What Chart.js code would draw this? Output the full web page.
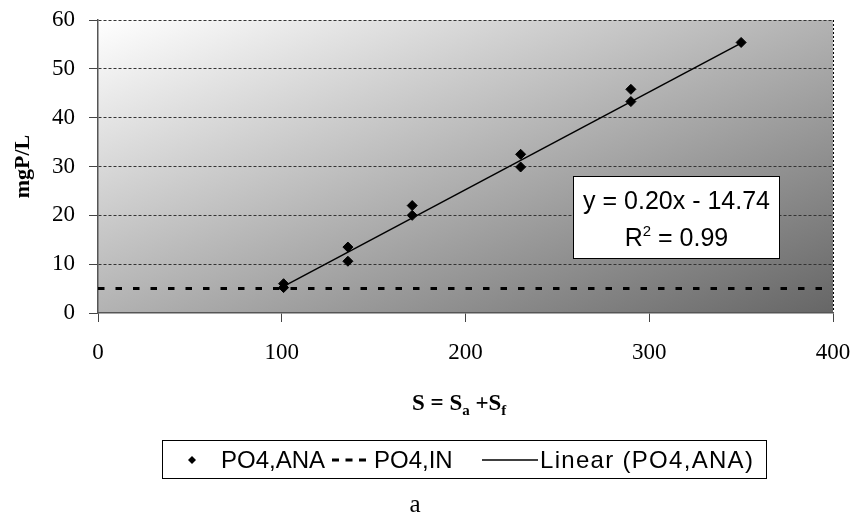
<!DOCTYPE html>
<html>
<head>
<meta charset="utf-8">
<script src="https://cdn.jsdelivr.net/npm/chart.js@4.4.1/dist/chart.umd.min.js"></script>
<style>
  html, body { margin: 0; padding: 0; background: #fff; }
  #wrap { width: 853px; height: 521px; }
</style>
</head>
<body>
<div id="wrap"><canvas id="c" width="853" height="521"></canvas></div>
<script>
// Substrate load S (x) and anaerobic phosphate release PO4,ANA (y, mgP/L)
const substrate = [101, 101, 136, 136, 171, 171, 230, 230, 290, 290, 350];
const po4Ana    = [6.0, 5.2, 13.5, 10.6, 22.0, 20.0, 32.5, 29.9, 45.8, 43.3, 55.4];

// Influent phosphate level PO4,IN (mgP/L)
const po4InLevel = 5;

// Fitted linear trend of PO4,ANA
const trendSlope = 0.20;
const trendIntercept = -14.74;
const rSquared = 0.99;

// Axis ticks
const xTicks = [0, 100, 200, 300, 400];
const yTicks = [0, 10, 20, 30, 40, 50, 60];

const labels = { ana: 'PO4,ANA', inflow: 'PO4,IN', trend: 'Linear (PO4,ANA)' };

const serif = '"Liberation Serif", "Times New Roman", serif';
const sans = '"Liberation Sans", Arial, sans-serif';

const xMinData = Math.min(...substrate);
const xMaxData = Math.max(...substrate);
const trendPoints = [xMinData, xMaxData].map(x => ({ x, y: trendSlope * x + trendIntercept }));

// Diagonal grey gradient behind the plot area
const plotBackground = {
  id: 'plotBackground',
  beforeDraw(chart) {
    const { ctx, chartArea: a } = chart;
    ctx.save();
    ctx.translate(a.left, a.top);
    ctx.scale(a.right - a.left, a.bottom - a.top);
    const g = ctx.createLinearGradient(0, 0, 1, 1);
    g.addColorStop(0, '#ffffff');
    g.addColorStop(1, '#666666');
    ctx.fillStyle = g;
    ctx.fillRect(0, 0, 1, 1);
    ctx.restore();
  }
};

// Draws a sequence of text runs (used for sub/superscripts)
function drawRuns(ctx, runs, x, y) {
  let cx = x;
  runs.forEach(r => {
    ctx.font = r.font;
    ctx.fillText(r.text, cx, y + (r.dy || 0));
    cx += ctx.measureText(r.text).width;
  });
  return cx;
}
function runsWidth(ctx, runs) {
  let w = 0;
  runs.forEach(r => { ctx.font = r.font; w += ctx.measureText(r.text).width; });
  return w;
}

// Axis title with subscripts, equation box, legend and caption
const annotations = {
  id: 'annotations',
  afterDraw(chart) {
    const { ctx } = chart;
    const ds = chart.data.datasets;
    ctx.save();
    ctx.fillStyle = '#000';
    ctx.textBaseline = 'alphabetic';
    ctx.textAlign = 'left';

    // x-axis title: S = Sa +Sf
    const big = `bold 23px ${serif}`;
    const sub = `bold 15px ${serif}`;
    drawRuns(ctx, [
      { text: 'S = S', font: big },
      { text: 'a', font: sub, dy: 5 },
      { text: ' +S', font: big },
      { text: 'f', font: sub, dy: 5 }
    ], 412, 410);

    // Trend equation box
    const bx = 573.5, by = 176.5, bw = 206, bh = 82;
    ctx.fillStyle = '#fff';
    ctx.fillRect(bx, by, bw, bh);
    ctx.strokeStyle = '#000';
    ctx.lineWidth = 1;
    ctx.strokeRect(bx, by, bw, bh);
    ctx.fillStyle = '#000';
    const eqFont = `25px ${sans}`;
    const sign = trendIntercept < 0 ? '-' : '+';
    const eq = `y = ${trendSlope.toFixed(2)}x ${sign} ${Math.abs(trendIntercept).toFixed(2)}`;
    ctx.font = eqFont;
    ctx.textAlign = 'center';
    ctx.fillText(eq, bx + bw / 2, by + 32);
    ctx.textAlign = 'left';
    const rRuns = [
      { text: 'R', font: eqFont },
      { text: '2', font: `15px ${sans}`, dy: -10 },
      { text: ` = ${rSquared.toFixed(2)}`, font: eqFont }
    ];
    drawRuns(ctx, rRuns, bx + bw / 2 - runsWidth(ctx, rRuns) / 2, by + 69);

    // Legend
    const lx = 162.5, ly = 440.5, lw = 604, lh = 38;
    ctx.strokeStyle = '#000';
    ctx.lineWidth = 1;
    ctx.strokeRect(lx, ly, lw, lh);
    const my = 460;
    ctx.font = `24px ${sans}`;
    ctx.textBaseline = 'middle';

    // marker item
    ctx.beginPath();
    ctx.moveTo(192 - 4, my); ctx.lineTo(192, my - 4); ctx.lineTo(192 + 4, my); ctx.lineTo(192, my + 4);
    ctx.closePath();
    ctx.fill();
    ctx.fillText(ds[0].label, 221, my + 1);

    // dashed item
    ctx.save();
    ctx.lineWidth = 3;
    ctx.setLineDash([7, 6.5]);
    ctx.beginPath();
    ctx.moveTo(332, my); ctx.lineTo(366, my);
    ctx.stroke();
    ctx.restore();
    ctx.fillText(ds[1].label, 374, my + 1);

    // solid line item
    ctx.strokeStyle = '#000';
    ctx.lineWidth = 1.5;
    ctx.beginPath();
    ctx.moveTo(482, my); ctx.lineTo(538, my);
    ctx.stroke();
    ctx.letterSpacing = '1.3px';
    ctx.fillText(ds[2].label, 540, my + 1);
    ctx.letterSpacing = '0px';

    // caption
    ctx.font = `25px ${serif}`;
    ctx.textAlign = 'center';
    ctx.fillText('a', 415, 505);
    ctx.restore();
  }
};

new Chart(document.getElementById('c'), {
  type: 'scatter',
  data: {
    datasets: [
      {
        label: labels.ana,
        data: substrate.map((x, i) => ({ x, y: po4Ana[i] })),
        pointStyle: 'rectRot',
        pointRadius: 5,
        pointBackgroundColor: '#000',
        pointBorderColor: '#000',
        pointBorderWidth: 1,
        showLine: false,
        order: 0
      },
      {
        label: labels.inflow,
        data: [{ x: xTicks[0], y: po4InLevel }, { x: xTicks[xTicks.length - 1], y: po4InLevel }],
        showLine: true,
        borderColor: '#000',
        borderWidth: 3,
        borderDash: [6.5, 11],
        pointRadius: 0,
        order: 2
      },
      {
        label: labels.trend,
        data: trendPoints,
        showLine: true,
        borderColor: '#000',
        borderWidth: 1.5,
        pointRadius: 0,
        order: 1
      }
    ]
  },
  options: {
    responsive: false,
    animation: false,
    devicePixelRatio: 1,
    layout: { padding: { left: 0, right: 20, top: 20, bottom: 0 } },
    plugins: { legend: { display: false }, tooltip: { enabled: false } },
    scales: {
      x: {
        type: 'linear',
        min: xTicks[0],
        max: xTicks[xTicks.length - 1],
        afterBuildTicks: s => { s.ticks = xTicks.map(v => ({ value: v })); },
        afterFit: s => { s.height = 208; s.paddingLeft = 0; s.paddingRight = 0; },
        grid: {
          color: c => (c.tick && c.tick.value === xTicks[xTicks.length - 1]) ? '#000' : 'rgba(0,0,0,0)',
          lineWidth: 1,
          tickLength: 9,
          tickColor: '#444',
          tickWidth: 1
        },
        border: { display: true, color: '#555', width: 1.5, dash: [2, 2] },
        ticks: {
          font: { family: serif, size: 23 },
          color: '#000',
          padding: 17,
          maxRotation: 0
        }
      },
      y: {
        min: yTicks[0],
        max: yTicks[yTicks.length - 1],
        afterBuildTicks: s => { s.ticks = yTicks.map(v => ({ value: v })); },
        afterFit: s => { s.width = 98; s.paddingTop = 0; s.paddingBottom = 0; },
        grid: {
          color: c => (c.tick && c.tick.value === yTicks[0]) ? 'rgba(0,0,0,0)' : '#333',
          lineWidth: 1,
          tickLength: 9,
          tickColor: '#444',
          tickWidth: 1
        },
        border: { display: true, color: '#555', width: 1.5, dash: [3, 2] },
        ticks: {
          font: { family: serif, size: 23 },
          color: '#000',
          padding: 14
        },
        title: {
          display: true,
          text: 'mgP/L',
          color: '#000',
          font: { family: serif, size: 22, weight: 'bold' },
          padding: { top: 10, bottom: 0 }
        }
      }
    }
  },
  plugins: [plotBackground, annotations]
});
</script>
</body>
</html>
